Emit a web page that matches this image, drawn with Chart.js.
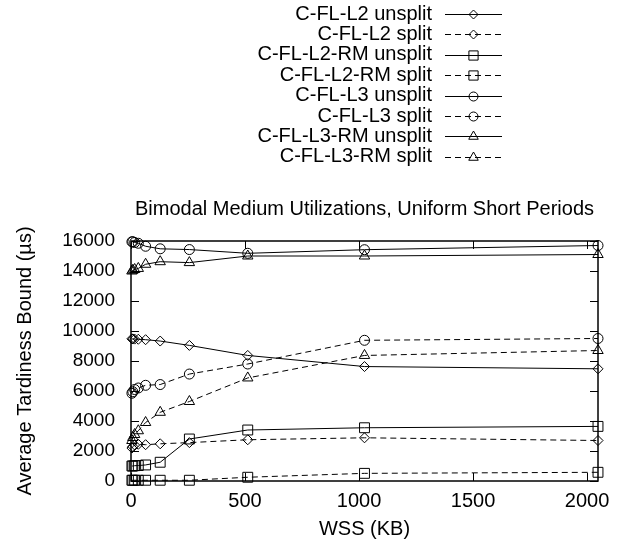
<!DOCTYPE html>
<html>
<head>
<meta charset="utf-8">
<script src="https://cdn.jsdelivr.net/npm/chart.js@4"></script>
<style>
  body { margin: 0; background: #fff; }
  #wrap { width: 622px; height: 548px; }
</style>
</head>
<body>
<div id="wrap"><canvas id="chart"></canvas></div>
<script>
// WSS sizes in KB
const wss = [4, 8, 16, 32, 64, 128, 256, 512, 1024, 2048];
const xTicks = [0, 500, 1000, 1500, 2000];
const yTicks = [0, 2000, 4000, 6000, 8000, 10000, 12000, 14000, 16000];

const seriesNames = [
  'C-FL-L2 unsplit', 'C-FL-L2 split',
  'C-FL-L2-RM unsplit', 'C-FL-L2-RM split',
  'C-FL-L3 unsplit', 'C-FL-L3 split',
  'C-FL-L3-RM unsplit', 'C-FL-L3-RM split'
];

// average tardiness bound (us)
const l2Unsplit   = [9480, 9470, 9460, 9450, 9420, 9330, 9040, 8370, 7630, 7480];
const l2Split     = [2200, 2300, 2400, 2450, 2420, 2480, 2560, 2750, 2880, 2700];
const l2rmUnsplit = [1000, 1000, 1020, 1030, 1070, 1250, 2800, 3400, 3550, 3640];
const l2rmSplit   = [50, 50, 50, 50, 50, 50, 50, 250, 510, 580];
const l3Unsplit   = [15950, 15950, 15900, 15850, 15650, 15480, 15430, 15180, 15420, 15700];
const l3Split     = [5850, 5950, 6100, 6200, 6380, 6430, 7130, 7800, 9380, 9500];
const l3rmUnsplit = [14000, 14050, 14100, 14170, 14450, 14620, 14560, 15000, 15000, 15100];
const l3rmSplit   = [2700, 2900, 3100, 3350, 3900, 4580, 5300, 6870, 8370, 8700];

const seriesValues = [l2Unsplit, l2Split, l2rmUnsplit, l2rmSplit, l3Unsplit, l3Split, l3rmUnsplit, l3rmSplit];
const markers = ['rectRot', 'rectRot', 'rect', 'rect', 'circle', 'circle', 'triangle', 'triangle'];
const markerSize = { rectRot: 5, rect: 7, circle: 5, triangle: 6 };
const dash = [6, 4];

const FONT = '"Liberation Sans", Arial, sans-serif';
Chart.defaults.font.family = FONT;
Chart.defaults.font.size = 20;
Chart.defaults.color = '#000';

const datasets = seriesNames.map((name, i) => ({
  label: name,
  data: wss.map((x, j) => ({ x: x, y: seriesValues[i][j] })),
  borderColor: '#000',
  borderWidth: 1,
  borderDash: i % 2 === 1 ? dash : [],
  pointStyle: markers[i],
  pointRadius: markerSize[markers[i]],
  pointHoverRadius: markerSize[markers[i]],
  pointBorderColor: '#000',
  pointBorderWidth: 1,
  pointBackgroundColor: 'rgba(0,0,0,0)',
  fill: false,
  tension: 0,
  clip: false
}));

function drawMarker(ctx, style, r, x, y) {
  ctx.beginPath();
  if (style === 'circle') {
    ctx.arc(x, y, r, 0, Math.PI * 2);
  } else if (style === 'rect') {
    const s = r * Math.SQRT1_2;
    ctx.rect(x - s, y - s, 2 * s, 2 * s);
  } else if (style === 'rectRot') {
    ctx.moveTo(x, y - r); ctx.lineTo(x + r, y); ctx.lineTo(x, y + r); ctx.lineTo(x - r, y);
    ctx.closePath();
  } else if (style === 'triangle') {
    const w = r * Math.sqrt(3) / 2;
    ctx.moveTo(x, y - r); ctx.lineTo(x + w, y + r / 2); ctx.lineTo(x - w, y + r / 2);
    ctx.closePath();
  }
  ctx.stroke();
}

const decor = {
  id: 'decor',
  afterDraw(chart) {
    const ctx = chart.ctx;
    const a = chart.chartArea;
    const xs = chart.scales.x, ys = chart.scales.y;
    ctx.save();
    ctx.strokeStyle = '#000';
    ctx.lineWidth = 1;
    ctx.setLineDash([]);

    // inner ticks on all four sides
    const tl = 8;
    ctx.beginPath();
    yTicks.forEach(v => {
      const py = Math.round(ys.getPixelForValue(v)) + 0.5;
      ctx.moveTo(a.left, py); ctx.lineTo(a.left + tl, py);
      ctx.moveTo(a.right, py); ctx.lineTo(a.right - tl, py);
    });
    xTicks.forEach(v => {
      const px = Math.round(xs.getPixelForValue(v)) + 0.5;
      ctx.moveTo(px, a.bottom); ctx.lineTo(px, a.bottom - tl);
      ctx.moveTo(px, a.top); ctx.lineTo(px, a.top + tl);
    });
    ctx.stroke();

    // frame
    ctx.lineWidth = 1.5;
    ctx.strokeRect(a.left, a.top, a.right - a.left, a.bottom - a.top);

    // texts
    ctx.fillStyle = '#000';
    ctx.font = '20px ' + FONT;
    ctx.textAlign = 'center';
    ctx.textBaseline = 'middle';
    ctx.fillText('Bimodal Medium Utilizations, Uniform Short Periods', (a.left + a.right) / 2, 209);
    ctx.fillText('WSS (KB)', (a.left + a.right) / 2, 529);
    ctx.save();
    ctx.translate(25, (a.top + a.bottom) / 2);
    ctx.rotate(-Math.PI / 2);
    ctx.fillText('Average Tardiness Bound (\u00b5s)', 0, 0);
    ctx.restore();

    // legend
    ctx.lineWidth = 1;
    seriesNames.forEach((name, i) => {
      const y = 14 + i * 20.4;
      ctx.textAlign = 'right';
      ctx.fillText(name, 432, y);
      ctx.setLineDash(i % 2 === 1 ? dash : []);
      ctx.beginPath();
      ctx.moveTo(445, Math.round(y) + 0.5);
      ctx.lineTo(502, Math.round(y) + 0.5);
      ctx.stroke();
      ctx.setLineDash([]);
      drawMarker(ctx, markers[i], markerSize[markers[i]] - 0.5, 473.5, Math.round(y) + 0.5);
    });
    ctx.restore();
  }
};

new Chart(document.getElementById('chart'), {
  type: 'line',
  data: { datasets: datasets },
  options: {
    responsive: true,
    maintainAspectRatio: false,
    animation: false,
    events: [],
    layout: { padding: { left: 0, right: 24, top: 241, bottom: 0 } },
    scales: {
      x: {
        type: 'linear',
        min: 0,
        max: 2048,
        afterBuildTicks: s => { s.ticks = xTicks.map(v => ({ value: v })); },
        afterFit: s => { s.height = 67; },
        grid: { display: false, drawTicks: false },
        border: { display: false },
        ticks: { padding: 8, maxRotation: 0, font: { size: 20 }, callback: v => String(v) }
      },
      y: {
        type: 'linear',
        min: 0,
        max: 16000,
        afterBuildTicks: s => { s.ticks = yTicks.map(v => ({ value: v })); },
        afterFit: s => { s.width = 131; },
        grid: { display: false, drawTicks: false },
        border: { display: false },
        ticks: { padding: 16, font: { size: 19 }, callback: v => String(v) }
      }
    },
    plugins: {
      legend: { display: false },
      title: { display: false },
      tooltip: { enabled: false }
    }
  },
  plugins: [decor]
});
</script>
</body>
</html>
